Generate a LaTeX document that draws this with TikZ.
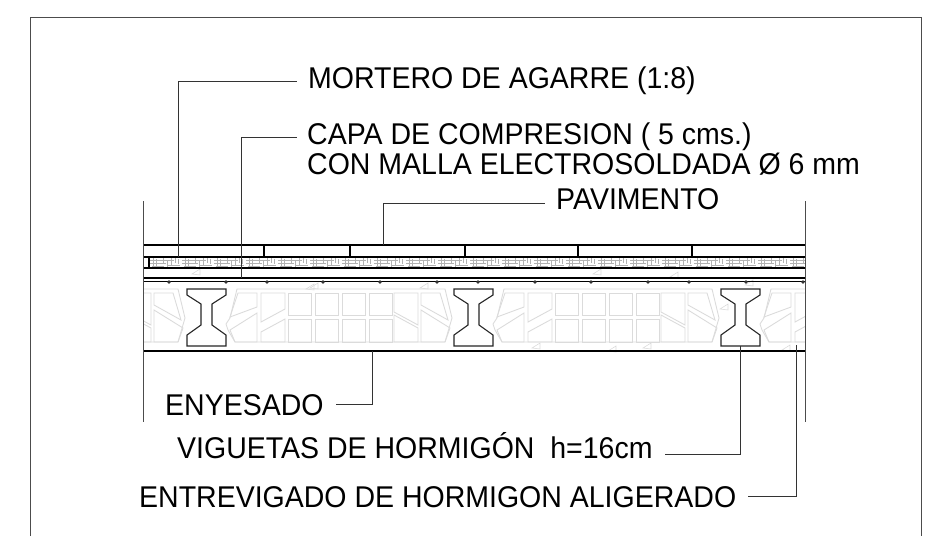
\documentclass[tikz,border=0pt]{standalone}
\usepackage{fontspec}
\setmainfont[FakeStretch=0.95]{Liberation Sans}
\tikzset{
    frameline/.style={draw=black!70, line width=1pt},
    layerline/.style={draw=black, line width=1.1pt},
    leaderline/.style={draw=black!80, line width=.9pt},
    blockline/.style={draw=black!14, line width=.9pt},
    hatchline/.style={draw=black!30, line width=.6pt},
    viguetaline/.style={draw=black!85, line width=1.1pt, fill=white},
    callout/.style={anchor=west, inner sep=0pt, align=left, font=\fontsize{30}{30}\selectfont}
}
\begin{document}
\begin{tikzpicture}[x=1pt, y=-1pt]

    \useasboundingbox (0,0) rectangle (937,536);
    \draw[frameline] (30,536) -- (30,17) -- (921,17) -- (921,536);

    % ceramic blocks
    \begin{scope}
    \clip (143,284) rectangle (805,350);
    \foreach \bayx in {-267,0,267,534} {
        \begin{scope}[xshift=\bayx pt]
        \draw[blockline] (237,289) -- (445,289) -- (452,318) -- (445,342) -- (235,342) -- (228,330) -- (226,324) -- (230,318) -- cycle;
        \draw[blockline] (238,293) -- (257,293) -- (257,307) -- (230,317) -- cycle;
        \draw[blockline] (230,330) -- (257,313) -- (257,342) -- (235,342) -- cycle;
        \draw[blockline] (261,293) -- (285,293) -- (285,309) -- (261,322) -- cycle;
        \draw[blockline] (261,332) -- (285,319) -- (285,342) -- (261,342) -- cycle;
        \foreach \blockx in {288,315,342,369} {
            \draw[blockline] (\blockx,293) rectangle ++(23,22);
            \draw[blockline] (\blockx,319) rectangle ++(23,23);
        }
        \draw[blockline] (394,293) -- (418,293) -- (418,325) -- (394,312) -- cycle;
        \draw[blockline] (394,315) -- (418,328) -- (418,342) -- (394,342) -- cycle;
        \draw[blockline] (421,293) -- (440,293) -- (448,320) -- (421,305) -- cycle;
        \draw[blockline] (421,310) -- (450,328) -- (445,342) -- (421,342) -- cycle;
        \end{scope}
    }
    \end{scope}

    % aggregate specks
    \foreach \speckx/\specky in {197/272,311/287,315/286,425/286,598/272,675/275,725/307,750/283,537/346,613/349,648/346,787/348} {
        \draw[blockline, line width=.6pt] (\speckx-5,\specky+2) -- (\speckx+3,\specky-3) -- (\speckx+3,\specky+3) -- cycle;
    }

    % mesh band under the tiles
    \begin{scope}
    \clip (149,257) rectangle (805,268);
    \foreach \hatchx in {0,32,...,640} {
        \begin{scope}[xshift=\hatchx pt]
        \draw[hatchline] (150,260) -- (174,260) (150,263) -- (166,263) (168,265) -- (180,265) (152,266) -- (164,266);
        \draw[hatchline] (153,258) -- (153,266) (156,259) -- (156,266) (163,258) -- (163,264) (167,260) -- (167,267) (171,258) -- (171,266) (175,258) -- (175,263) (178,259) -- (178,264);
        \end{scope}
    }
    \end{scope}

    % layers
    \draw[layerline] (143,245) -- (805,245);
    \draw[layerline] (143,257) -- (805,257);
    \draw[layerline] (143,268) -- (805,268);
    \draw[layerline] (143,278) -- (805,278);
    \draw[layerline, line width=.7pt] (143,281) -- (805,281);
    \draw[layerline] (143,351) -- (805,351);
    \draw[layerline] (149,257) -- (149,268);
    \foreach \jointx in {264,350,465,578,692} {
        \draw[layerline] (\jointx,245) -- (\jointx,257);
    }
    \draw[frameline] (143,201) -- (143,422);
    \draw[frameline] (805,201) -- (805,422);

    % rebars
    \foreach \rebarx in {169,226,267,323,380,437,478,535,591,648,689,746,803} {
        \fill[black!80] (\rebarx,282) circle (1.8);
    }

    % viguetas
    \foreach \viguetax in {187,454,721} {
        \begin{scope}[xshift=\viguetax pt]
        \draw[viguetaline] (0,289) -- (39,289) -- (39,295) -- (25,304) -- (25,325) -- (39,335) -- (39,346) -- (0,346) -- (0,335) -- (14,325) -- (14,304) -- (0,295) -- cycle;
        \end{scope}
    }

    % labels
    \node[callout] (mortero) at (308,81) {MORTERO DE AGARRE (1:8)};
    \node[callout] (capa) at (307,149) {CAPA DE COMPRESION ( 5 cms.)\\CON MALLA ELECTROSOLDADA Ø 6 mm};
    \node[callout] (pavimento) at (556,199) {PAVIMENTO};
    \node[callout] (enyesado) at (165,405) {ENYESADO};
    \node[callout] (viguetas) at (177,446) {VIGUETAS DE HORMIGÓN\ \ h=16cm};
    \node[callout] (entrevigado) at (139,497) {ENTREVIGADO DE HORMIGON ALIGERADO};

    % leaders
    \coordinate (morteroend) at (178,257);
    \coordinate (morterotip) at (297,81.5);
    \coordinate (capaend) at (241.5,278);
    \coordinate (capatip) at (297,137);
    \coordinate (pavimentoend) at (383,245);
    \coordinate (pavimentotip) at (545,203);
    \coordinate (enyesadoend) at (372,351);
    \coordinate (enyesadotip) at (336,404);
    \coordinate (viguetasend) at (740,346);
    \coordinate (viguetastip) at (665,454);
    \coordinate (entrevigadoend) at (796,345);
    \coordinate (entrevigadotip) at (748,496);
    \draw[leaderline] (morteroend) |- (morterotip);
    \draw[leaderline] (capaend) |- (capatip);
    \draw[leaderline] (pavimentoend) |- (pavimentotip);
    \draw[leaderline] (enyesadoend) |- (enyesadotip);
    \draw[leaderline] (viguetasend) |- (viguetastip);
    \draw[leaderline] (entrevigadoend) |- (entrevigadotip);

\end{tikzpicture}
\end{document}
